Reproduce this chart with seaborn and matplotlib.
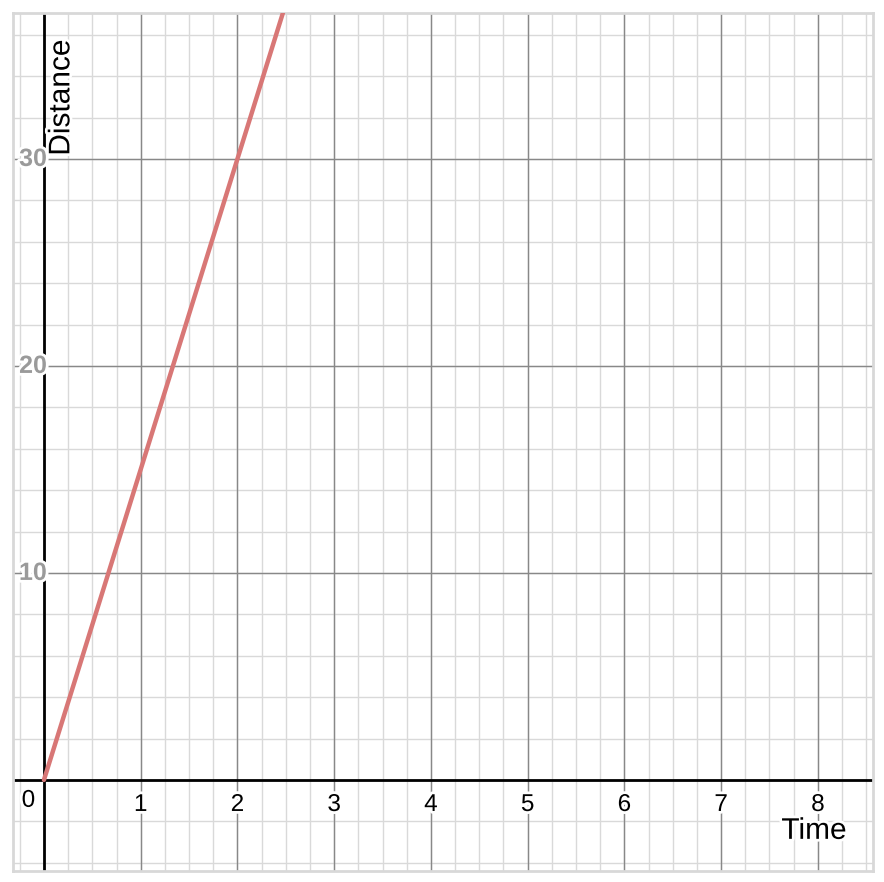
import matplotlib
matplotlib.use("Agg")
import matplotlib.pyplot as plt
import matplotlib.patheffects as pe
import numpy as np
import pandas as pd
import seaborn as sns

time = [0, 2.6]
distance = [0, 39]
x_ticks = [1, 2, 3, 4, 5, 6, 7, 8]
y_ticks = [10, 20, 30]

sns.set_theme(style="white")
plt.rcParams['font.family'] = ['Liberation Sans', 'DejaVu Sans']

W, H = 884, 882
fig = plt.figure(figsize=(W / 100, H / 100), dpi=100)
ax = fig.add_axes([13 / W, 11 / H, 860 / W, 858 / H])

xmin, xmax = -0.32, 8.57
ymin, ymax = -4.40, 37.05
ax.set_xlim(xmin, xmax)
ax.set_ylim(ymin, ymax)

# minor grid
for xv in np.arange(-0.25, 8.6, 0.25):
    ax.axvline(xv, color="#d9d9d9", lw=1.0, zorder=0)
for yv in np.arange(-4, 37.1, 2):
    ax.axhline(yv, color="#d9d9d9", lw=1.0, zorder=0)
# major grid
for xv in range(1, 9):
    ax.axvline(xv, color="#888888", lw=1.0, zorder=1)
for yv in y_ticks:
    ax.axhline(yv, color="#888888", lw=1.0, zorder=1)
# axes
ax.axhline(0, color="black", lw=2, zorder=2)
ax.axvline(0, color="black", lw=2, zorder=2)

df = pd.DataFrame({"Time": time, "Distance": distance})
sns.lineplot(data=df, x="Time", y="Distance", ax=ax, color="#d87776", lw=3.2, zorder=3)

ax.set_xticks([])
ax.set_yticks([])
ax.set_xlabel("")
ax.set_ylabel("")
for s in ax.spines.values():
    s.set_color("#d8d8d8")
    s.set_linewidth(2)

stroke = [pe.withStroke(linewidth=4, foreground="white")]
for t in x_ticks:
    ax.text(t, -1.21, str(t), ha="center", va="center", fontsize=17.5, color="black",
            path_effects=stroke, zorder=4)
for t in y_ticks:
    ax.text(0.03, t, str(t), ha="right", va="center", fontsize=18, color="#9a9a9a",
            fontweight="bold", path_effects=stroke, zorder=4)
ax.text(-0.16, -1.01, "0", ha="center", va="center", fontsize=17.5, color="black",
        path_effects=stroke, zorder=4)

ax.text(0.18, 32.97, "Distance", rotation=90, ha="center", va="center", fontsize=21.5,
        color="black", path_effects=stroke, zorder=4)
ax.text(7.96, -2.46, "Time", ha="center", va="center", fontsize=21.5,
        color="black", path_effects=stroke, zorder=4)

fig.savefig("out.png", dpi=100)
